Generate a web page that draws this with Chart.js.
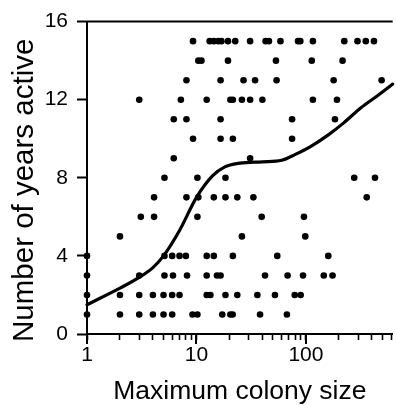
<!DOCTYPE html>
<html><head><meta charset="utf-8">
<script src="https://cdn.jsdelivr.net/npm/chart.js@4/dist/chart.umd.min.js"></script>
<style>html,body{margin:0;padding:0;background:#fff;}#wrap{width:396px;height:405px;position:relative;}</style>
</head><body><div id="wrap"><canvas id="c"></canvas></div>
<script>
// Observations (x = maximum colony size, y = number of years active)
const colonySize = [
  9.3, 13.2, 14.4, 15.8, 16.9, 19.4, 22.6, 30.9, 42.8, 45.9, 58.5, 84.7, 88.8, 115.7, 224, 295.6, 351.9, 418,
  10.4, 11.1, 19.4, 53.2, 113, 216,
  8.1, 16.6, 26.9, 34.3, 53.9, 179, 491,
  3.0, 7.2, 12.4, 20.4, 21.5, 26, 30.9, 40, 115.7, 192,
  6.2, 8.1, 16.6, 74.7, 184,
  9.3, 16.6, 21.5, 74.7,
  6.2, 30.9,
  5.1, 10.2, 18.4, 276, 427,
  4.1, 8.1, 10.4, 14.4, 18.4, 23.6, 33.1, 359,
  3.1, 4.1, 10.2, 39.4, 95.9,
  2.0, 26, 98.6,
  1, 5.1, 6.0, 7.0, 8.0, 12.4, 14.4, 21.5, 54.7, 160,
  1, 3.0, 5.1, 6.1, 8.2, 12.4, 15.4, 16.6, 42.3, 68, 94, 145.5, 175,
  1, 2, 3, 4, 5, 6, 7, 12.4, 13.4, 18.4, 23.6, 36, 52.1, 79, 89.5,
  1, 2, 3, 4, 5, 6, 9.2, 10.2, 17.2, 20.4, 21.4, 38.1, 67
];
const yearsActive = [
  15,15,15,15,15,15,15,15,15,15,15,15,15,15,15,15,15,15,
  14,14,14,14,14,14,
  13,13,13,13,13,13,13,
  12,12,12,12,12,12,12,12,12,12,
  11,11,11,11,11,
  10,10,10,10,
  9,9,
  8,8,8,8,8,
  7,7,7,7,7,7,7,7,
  6,6,6,6,6,
  5,5,5,
  4,4,4,4,4,4,4,4,4,4,
  3,3,3,3,3,3,3,3,3,3,3,3,3,
  2,2,2,2,2,2,2,2,2,2,2,2,2,2,2,
  1,1,1,1,1,1,1,1,1,1,1,1,1
];
// Smoothed trend curve
const curveSize  = [1, 2, 3, 4, 5, 7, 10, 14, 18, 25, 40, 60, 80, 110, 160, 220, 320, 450, 620];
const curveYears = [1.5, 2.35, 2.9, 3.4, 4.0, 5.3, 7.0, 8.1, 8.55, 8.75, 8.82, 8.9, 9.2, 9.6, 10.2, 10.8, 11.6, 12.2, 12.8];
// Axes
const xTickValues = [1,2,3,4,5,6,7,8,9,10,20,30,40,50,60,70,80,90,100,200,300,400,500,600];
const xMajorTicks = [1, 10, 100];
const yTickValues = [0, 4, 8, 12, 16];
const xTitle = 'Maximum colony size';
const yTitle = 'Number of years active';

const FONT = "'Liberation Sans', Arial, Helvetica, sans-serif";
Chart.defaults.font.family = FONT;
Chart.defaults.color = '#000';

const decor = {
  id: 'decor',
  beforeDatasetsDraw(chart) {
    const {ctx, chartArea: a, scales: {x}} = chart;
    ctx.save();
    ctx.strokeStyle = '#000';
    ctx.lineWidth = 2;
    ctx.beginPath(); ctx.moveTo(a.left - 1, a.top); ctx.lineTo(a.right, a.top); ctx.stroke();
    xMajorTicks.forEach(v => {
      const px = Math.round(x.getPixelForValue(v));
      ctx.beginPath(); ctx.moveTo(px, a.bottom); ctx.lineTo(px, a.bottom + 10); ctx.stroke();
    });
    ctx.translate(25, (a.top + a.bottom) / 2 + 12.5);
    ctx.rotate(-Math.PI / 2);
    ctx.font = '29.5px ' + FONT;
    ctx.fillStyle = '#000';
    ctx.textAlign = 'center';
    ctx.textBaseline = 'middle';
    ctx.fillText(yTitle, 0, 0);
    ctx.restore();
  }
};

new Chart(document.getElementById('c'), {
  type: 'scatter',
  data: {
    datasets: [
      {
        type: 'line',
        data: curveSize.map((v, i) => ({x: v, y: curveYears[i]})),
        borderColor: '#000', borderWidth: 3.2, pointRadius: 0,
        cubicInterpolationMode: 'monotone', fill: false, clip: false,
        borderCapStyle: 'round'
      },
      {
        data: colonySize.map((v, i) => ({x: v, y: yearsActive[i]})),
        backgroundColor: '#000', borderColor: '#000', borderWidth: 0,
        pointRadius: 3.3, pointHoverRadius: 3.3, clip: false
      }
    ]
  },
  options: {
    responsive: true, maintainAspectRatio: false, animation: false,
    devicePixelRatio: 1,
    layout: {padding: {top: 17, left: 0, right: 0, bottom: 0}},
    plugins: {legend: {display: false}, tooltip: {enabled: false}},
    scales: {
      x: {
        type: 'logarithmic', min: 1, max: 620, position: 'bottom',
        afterFit(s) { s.height = 71; },
        afterBuildTicks(s) { s.ticks = xTickValues.map(v => ({value: v, major: xMajorTicks.includes(v)})); },
        ticks: {
          autoSkip: false, maxRotation: 0, minRotation: 0, padding: 3, color: '#000',
          font: {size: 21},
          callback: (v) => xMajorTicks.includes(v) ? String(v) : ''
        },
        grid: {display: true, drawOnChartArea: false, drawTicks: true, tickLength: 6, tickColor: '#000', tickWidth: 1.6},
        border: {display: true, color: '#000', width: 2},
        title: {display: true, text: xTitle, color: '#000', font: {size: 26.5, lineHeight: 1}, padding: {top: 0, bottom: 0}}
      },
      y: {
        min: 0, max: 16,
        afterFit(s) { s.width = 87; },
        afterBuildTicks(s) { s.ticks = yTickValues.map(v => ({value: v})); },
        ticks: {padding: 9, color: '#000', font: {size: 21}},
        grid: {display: true, drawOnChartArea: false, drawTicks: true, tickLength: 10, tickColor: '#000', tickWidth: 2},
        border: {display: true, color: '#000', width: 2}
      }
    }
  },
  plugins: [decor]
});
</script>
</body></html>
